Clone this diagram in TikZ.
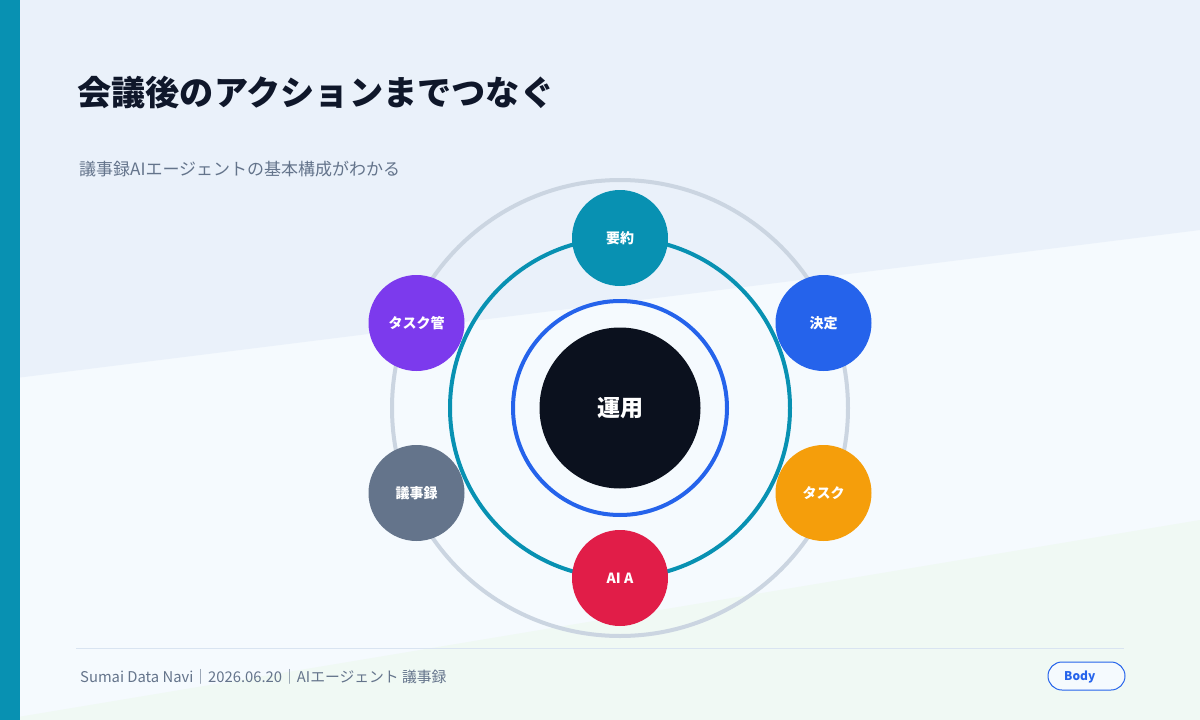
\documentclass[tikz,border=0pt]{standalone}
\usepackage{fontspec}
\setmainfont{Noto Sans CJK JP}
\usepackage{tikz}
\usetikzlibrary{positioning}

\definecolor{barteal}{HTML}{0891B2}
\definecolor{bgtop}{HTML}{EAF1FA}
\definecolor{bgmid}{HTML}{F5FAFE}
\definecolor{bggreen}{HTML}{F0F9F4}
\definecolor{inkdark}{HTML}{0F172A}
\definecolor{inkgray}{HTML}{64748B}
\definecolor{ringgray}{HTML}{CBD5E1}
\definecolor{ringblue}{HTML}{2563EB}
\definecolor{hubdark}{HTML}{0B111E}
\definecolor{satamber}{HTML}{F59E0B}
\definecolor{satrose}{HTML}{E11D48}
\definecolor{satslate}{HTML}{64748B}
\definecolor{satpurple}{HTML}{7C3AED}
\definecolor{footline}{HTML}{D9E4F1}

\begin{document}
\begin{tikzpicture}[x=1pt,y=-1pt]
  \tikzstyle{satellite}=[circle, inner sep=0pt, minimum size=96pt, text=white,
                         font=\fontsize{14}{16}\selectfont\bfseries]
  \tikzstyle{plaintext}=[inner sep=0pt, anchor=base west]
  \useasboundingbox (0,0) rectangle (1200,720);
  % background bands
  \fill[bgmid] (0,0) rectangle (1200,720);
  \fill[bgtop] (0,0) -- (1200,0) -- (1200,230) -- (0,380) -- cycle;
  \fill[bggreen] (0,720) -- (1200,520) -- (1200,720) -- cycle;
  \fill[barteal] (0,0) rectangle (20,720);
  % headings
  \node[plaintext, text=inkdark, font=\fontsize{34.2}{39}\selectfont\bfseries] (Title) at (77,105) {会議後のアクションまでつなぐ};
  \node[plaintext, text=inkgray, font=\fontsize{17}{20}\selectfont] (Subtitle) at (79,175) {議事録AIエージェントの基本構成がわかる};
  % hub and rings
  \node[circle, fill=hubdark, inner sep=0pt, minimum size=161pt, text=white,
        font=\fontsize{23}{26}\selectfont\bfseries] (Center Hub) at (620,408) {運用};
  \draw[ringgray, line width=4pt] (Center Hub.center) circle[radius=228];
  \draw[barteal, line width=4pt] (Center Hub.center) circle[radius=170];
  \draw[ringblue, line width=4pt] (Center Hub.center) circle[radius=107];
  % satellites
  \node[satellite, fill=barteal] (Summary) at (620,238) {要約};
  \node[satellite, fill=ringblue] (Decision) at (823.5,323) {決定};
  \node[satellite, fill=satamber] (Task) at (823.5,493) {タスク};
  \node[satellite, fill=satrose] (AI Agent) at (620,578) {AI A};
  \node[satellite, fill=satslate] (Minutes) at (416.5,493) {議事録};
  \node[satellite, fill=satpurple] (Task Manager) at (416.5,323) {タスク管};
  % footer
  \draw[footline, line width=1pt] (76,648) -- (1124,648);
  \node[plaintext, text=inkgray, font=\fontsize{14.8}{17}\selectfont] (Footer) at (80,682) {Sumai Data Navi｜2026.06.20｜AIエージェント 議事録};
  \draw[ringblue, fill=bgmid, line width=1pt, rounded corners=14pt] (1048,662) rectangle (1125,690);
  \node[plaintext, text=ringblue, font=\fontsize{12}{14}\selectfont\bfseries] (Badge) at (1064,680) {Body};
\end{tikzpicture}
\end{document}
